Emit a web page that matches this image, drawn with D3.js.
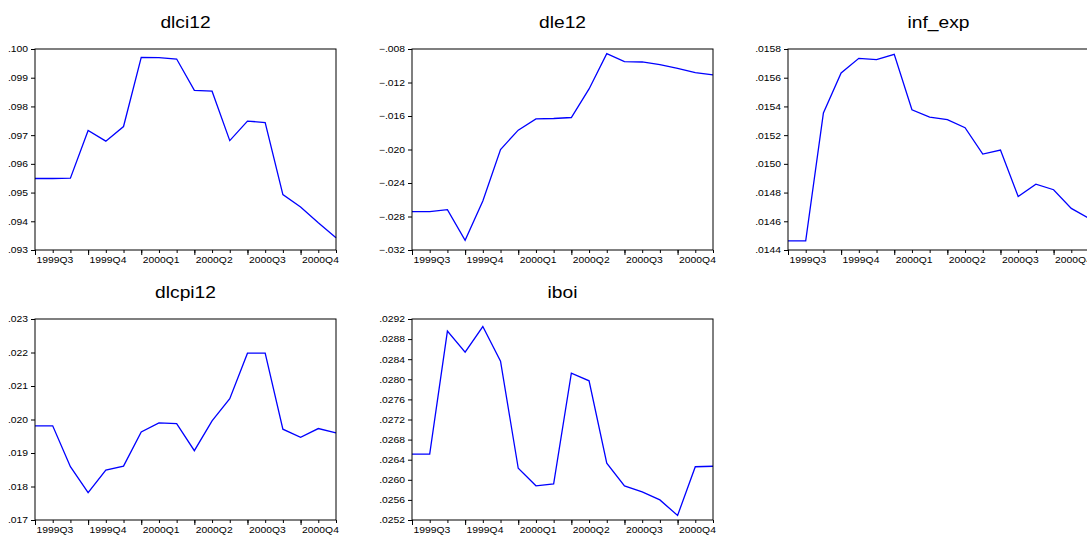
<!DOCTYPE html>
<html>
<head>
<meta charset="utf-8">
<script src="https://cdn.jsdelivr.net/npm/d3@7"></script>
<style>
  body { margin: 0; background: #fff; }
  svg { display: block; font-family: "Liberation Sans", Arial, sans-serif; }
</style>
</head>
<body>
<div id="chart"></div>
<script>
// monthly observations 1999M07 - 2000M12
var months = ['1999M07', '1999M08', '1999M09', '1999M10', '1999M11', '1999M12',
  '2000M01', '2000M02', '2000M03', '2000M04', '2000M05', '2000M06',
  '2000M07', '2000M08', '2000M09', '2000M10', '2000M11', '2000M12'];
var quarterLabels = ['1999Q3', '1999Q4', '2000Q1', '2000Q2', '2000Q3', '2000Q4'];

var dlci12 = [.09549, .09549, .09550, .09716, .09679, .09730, .09971, .09970, .09965,
  .09856, .09853, .09681, .09749, .09744, .09493, .09450, .09395, .09343];
var dle12 = [-.02742, -.02742, -.02719, -.03084, -.02615, -.02000, -.01769, -.01634, -.01630,
  -.01618, -.01277, -.00856, -.00951, -.00955, -.00987, -.01030, -.01082, -.01110];
var infExp = [.014464, .014464, .015354, .015633, .015735, .015726, .015763, .015377, .015326,
  .015308, .015252, .015068, .015096, .014773, .014859, .014820, .014690, .014620];
var dlcpi12 = [.01981, .01981, .01859, .01782, .01849, .01861, .01963, .01990, .01988,
  .01907, .01996, .02062, .02198, .02198, .01971, .01947, .01973, .01960];
var iboi = [.02651, .02651, .02896, .02854, .02905, .02836, .02623, .02588, .02592,
  .02812, .02797, .02633, .02588, .02576, .02560, .02529, .02626, .02627];

// y tick values
var dlci12Ticks = [.093, .094, .095, .096, .097, .098, .099, .100];
var dle12Ticks = [-.032, -.028, -.024, -.020, -.016, -.012, -.008];
var infExpTicks = [.0144, .0146, .0148, .0150, .0152, .0154, .0156, .0158];
var dlcpi12Ticks = [.017, .018, .019, .020, .021, .022, .023];
var iboiTicks = [.0252, .0256, .0260, .0264, .0268, .0272, .0276, .0280, .0284, .0288, .0292];

var panels = [
  { title: 'dlci12', values: dlci12, ticks: dlci12Ticks, digits: 3, col: 0, row: 0 },
  { title: 'dle12', values: dle12, ticks: dle12Ticks, digits: 3, col: 1, row: 0 },
  { title: 'inf_exp', values: infExp, ticks: infExpTicks, digits: 4, col: 2, row: 0 },
  { title: 'dlcpi12', values: dlcpi12, ticks: dlcpi12Ticks, digits: 3, col: 0, row: 1 },
  { title: 'iboi', values: iboi, ticks: iboiTicks, digits: 4, col: 1, row: 1 }
];

var width = 1087;
var height = 536;
var colLeft = [35, 412, 788];
var rowTop = [49, 319];
var pw = 301;
var ph = 201;
var stretch = 1.15; // text looks horizontally stretched in the original

var svg = d3.select('#chart').append('svg')
  .attr('width', width)
  .attr('height', height);

panels.forEach(function(p) {
  var g = svg.append('g')
    .attr('transform', 'translate(' + colLeft[p.col] + ',' + rowTop[p.row] + ')');

  var x = d3.scaleLinear().domain([0, months.length - 1]).range([0, pw]);
  var y = d3.scaleLinear()
    .domain([p.ticks[0], p.ticks[p.ticks.length - 1]])
    .range([ph, 0]);

  var fmt = function(v) {
    return d3.format('.' + p.digits + 'f')(v).replace('0.', '.');
  };

  // title
  g.append('text')
    .attr('transform', 'translate(' + (pw / 2) + ',-21) scale(1.2,1)')
    .attr('text-anchor', 'middle')
    .style('font-size', '16px')
    .attr('fill', '#000')
    .text(p.title);

  // y axis
  var yAxis = g.append('g')
    .call(d3.axisLeft(y).tickValues(p.ticks).tickFormat(fmt).tickSize(4).tickPadding(2));
  yAxis.select('.domain').remove();
  yAxis.selectAll('text')
    .style('font-size', '9px')
    .attr('font-family', null)
    .attr('transform', 'scale(' + stretch + ',1)');

  // x axis: minor ticks every month, long ticks at quarter starts
  var xMinor = g.append('g')
    .attr('transform', 'translate(0,' + ph + ')')
    .call(d3.axisBottom(x).tickValues(d3.range(months.length)).tickFormat('').tickSize(3));
  xMinor.select('.domain').remove();

  var quarterIdx = d3.range(0, months.length, 3);
  var xMajor = g.append('g')
    .attr('transform', 'translate(0,' + ph + ')')
    .call(d3.axisBottom(x).tickValues(quarterIdx).tickFormat('').tickSize(5));
  xMajor.select('.domain').remove();

  g.selectAll('.qlabel')
    .data(quarterIdx)
    .enter()
    .append('text')
    .classed('qlabel', true)
    .attr('transform', function(d) {
      return 'translate(' + (x(d) + 1.5) + ',' + (ph + 13) + ') scale(' + stretch + ',1)';
    })
    .style('font-size', '9px')
    .attr('fill', '#000')
    .text(function(d, i) {
      return quarterLabels[i];
    });

  // series line
  var line = d3.line()
    .x(function(d, i) { return x(i); })
    .y(function(d) { return y(d); });

  g.append('path')
    .datum(p.values)
    .attr('d', line)
    .attr('fill', 'none')
    .attr('stroke', '#0000ff')
    .attr('stroke-width', 1.3)
    .attr('stroke-linejoin', 'miter');

  // frame
  g.append('rect')
    .attr('x', 0)
    .attr('y', 0)
    .attr('width', pw)
    .attr('height', ph)
    .attr('fill', 'none')
    .attr('stroke', '#000')
    .attr('stroke-width', 1);
});
</script>
</body>
</html>
